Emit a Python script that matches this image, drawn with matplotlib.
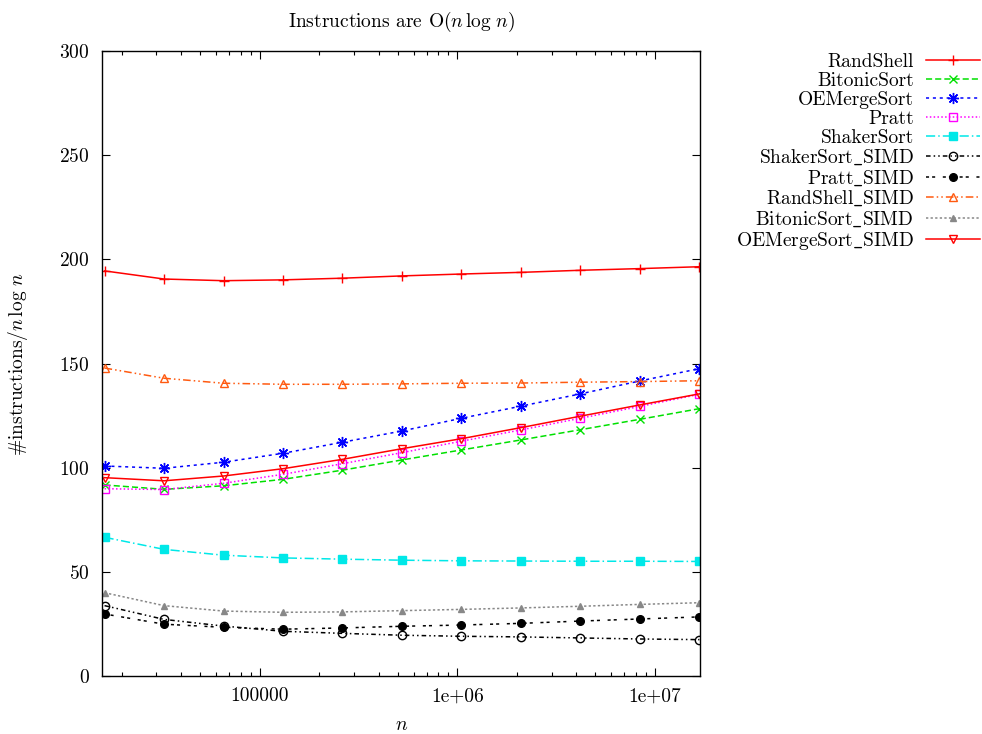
import matplotlib
matplotlib.use("Agg")
import matplotlib.pyplot as plt
from matplotlib.ticker import FixedLocator, FixedFormatter, LogLocator, NullFormatter

plt.rcParams['font.family'] = 'serif'
plt.rcParams['font.serif'] = ['cmr10']
plt.rcParams['mathtext.fontset'] = 'cm'
plt.rcParams['axes.formatter.use_mathtext'] = True
plt.rcParams['font.size'] = 14

n = [2 ** k for k in range(14, 25)]

rand_shell = [194.5, 190.6, 189.8, 190.2, 191.0, 192.1, 193.0, 193.8, 194.8, 195.6, 196.5]
bitonic = [91.8, 89.7, 91.4, 94.5, 98.9, 103.8, 108.6, 113.4, 118.3, 123.3, 128.4]
oemerge = [100.9, 99.8, 102.7, 107.0, 112.3, 117.7, 123.8, 129.6, 135.5, 141.7, 147.6]
pratt = [90.0, 89.6, 92.6, 96.9, 102.0, 107.3, 112.8, 118.2, 123.8, 129.5, 135.3]
shaker = [66.7, 60.9, 58.1, 56.8, 56.2, 55.7, 55.4, 55.3, 55.2, 55.2, 55.1]
shaker_simd = [33.9, 27.3, 24.1, 21.6, 20.6, 19.7, 19.2, 18.9, 18.4, 17.9, 17.6]
pratt_simd = [29.9, 25.0, 23.5, 22.6, 23.2, 24.0, 24.6, 25.4, 26.5, 27.5, 28.5]
randshell_simd = [147.9, 143.0, 140.6, 140.1, 140.1, 140.3, 140.6, 140.7, 141.1, 141.4, 141.8]
bitonic_simd = [40.1, 33.9, 31.3, 30.7, 30.9, 31.5, 32.1, 32.8, 33.6, 34.5, 35.3]
oemerge_simd = [95.3, 93.8, 96.1, 99.6, 104.1, 109.2, 114.0, 119.3, 124.8, 130.2, 135.5]

labels = ["RandShell", "BitonicSort", "OEMergeSort", "Pratt", "ShakerSort",
          r"ShakerSort$\_$SIMD", r"Pratt$\_$SIMD", r"RandShell$\_$SIMD",
          r"BitonicSort$\_$SIMD", r"OEMergeSort$\_$SIMD"]
series = [rand_shell, bitonic, oemerge, pratt, shaker, shaker_simd, pratt_simd,
          randshell_simd, bitonic_simd, oemerge_simd]

x_ticks = [1e5, 1e6, 1e7]
x_tick_labels = ["100000", "1e+06", "1e+07"]
y_ticks = [0, 50, 100, 150, 200, 250, 300]

styles = [
    dict(color="#ff0000", ls="-", marker="+", ms=7, mfc="none"),
    dict(color="#00e000", ls=(0, (4, 2)), marker="x", ms=6, mfc="none"),
    dict(color="#0000ff", ls=(0, (2, 2.5)), marker=(8, 2, 0), ms=8, mfc="none"),
    dict(color="#ff00ff", ls=(0, (1, 1.5)), marker="s", ms=6, mfc="none"),
    dict(color="#00e8e8", ls=(0, (6, 2, 1, 2)), marker="s", ms=6),
    dict(color="#000000", ls=(0, (3, 2, 1, 2, 1, 2)), marker="o", ms=6, mfc="none"),
    dict(color="#000000", ls=(0, (2, 2, 2, 5)), marker="o", ms=5.5),
    dict(color="#ff5a10", ls=(0, (5, 2, 1, 2, 1, 2)), marker="^", ms=6, mfc="none"),
    dict(color="#888888", ls=(0, (1.5, 1.5)), marker="^", ms=4.5),
    dict(color="#ff0000", ls="-", marker="v", ms=6, mfc="none"),
]

fig = plt.figure(figsize=(9.82, 7.34), dpi=100)
ax = fig.add_axes([102.3 / 982, 1 - 676.3 / 734, (700 - 102.3) / 982, (676.3 - 51) / 734])

for lab, ys, st in zip(labels, series, styles):
    ax.plot(n, ys, label=lab, lw=1.1, color=st["color"], linestyle=st["ls"],
            marker=st["marker"], markersize=st["ms"],
            markerfacecolor=st.get("mfc", st["color"]), markeredgecolor=st["color"],
            markeredgewidth=1.0)

ax.set_xscale("log")
ax.set_xlim(15960, 1.69e7)
ax.set_ylim(0, 300)
ax.xaxis.set_major_locator(FixedLocator(x_ticks))
ax.xaxis.set_major_formatter(FixedFormatter(x_tick_labels))
ax.xaxis.set_minor_locator(LogLocator(base=10, subs=range(2, 10)))
ax.xaxis.set_minor_formatter(NullFormatter())
ax.set_yticks(y_ticks)
ax.tick_params(which="both", direction="in", top=True, right=True)
ax.tick_params(which="major", length=6, width=0.8, labelsize=14)
ax.tick_params(axis="y", which="major", pad=9)
ax.tick_params(axis="x", which="major", pad=8)
ax.tick_params(which="minor", length=3, width=0.8)
for s in ax.spines.values():
    s.set_linewidth(1.0)

ax.set_title(r"Instructions are O($n\,\log\,n$)", fontsize=14, pad=17)
ax.set_ylabel(r"#instructions/$n\,\log\,n$", fontsize=14, labelpad=21)
ax.set_xlabel(r"$n$", fontsize=14, labelpad=8)

leg = fig.legend(loc="upper right", bbox_to_anchor=(0.998, 0.9275), frameon=False,
                 markerfirst=False, handlelength=2.8, labelspacing=0.05,
                 borderpad=0, borderaxespad=0, handletextpad=0.6, fontsize=14)

fig.savefig("out.png", dpi=100)
